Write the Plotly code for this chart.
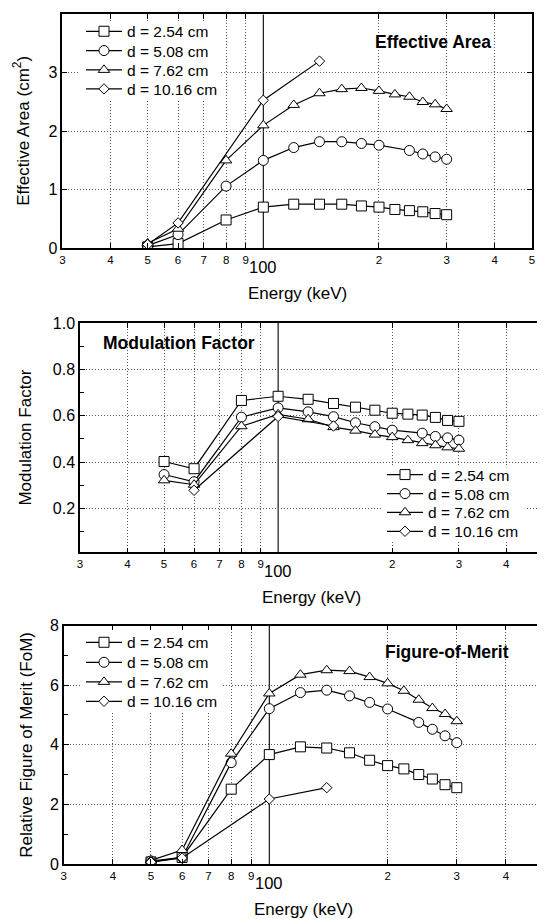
import numpy as np
import plotly.graph_objects as go

# ---------------- data ----------------
energy = [50, 60, 80, 100, 120, 140, 160, 180, 200, 220, 240, 260, 280, 300]
energy_circ = [50, 60, 80, 100, 120, 140, 160, 180, 200, 240, 260, 280, 300]
energy_diam = [50, 60, 100, 140]
energy_diam_mod = [60, 100, 140]

labels = ["d = 2.54 cm", "d = 5.08 cm", "d = 7.62 cm", "d = 10.16 cm"]

area_254 = [0.02, 0.075, 0.48, 0.70, 0.75, 0.75, 0.75, 0.72, 0.70, 0.66, 0.64, 0.62, 0.59, 0.57]
area_508 = [0.04, 0.23, 1.06, 1.50, 1.72, 1.82, 1.82, 1.79, 1.76, 1.67, 1.61, 1.56, 1.52]
area_762 = [0.08, 0.33, 1.50, 2.10, 2.45, 2.65, 2.72, 2.74, 2.69, 2.63, 2.59, 2.50, 2.46, 2.38]
area_1016 = [0.06, 0.43, 2.53, 3.20]

mod_254 = [0.403, 0.372, 0.666, 0.684, 0.671, 0.653, 0.637, 0.624, 0.611, 0.607, 0.603, 0.593, 0.580, 0.576]
mod_508 = [0.347, 0.316, 0.594, 0.634, 0.617, 0.596, 0.570, 0.553, 0.538, 0.525, 0.511, 0.505, 0.495]
mod_762 = [0.322, 0.303, 0.555, 0.606, 0.585, 0.551, 0.536, 0.519, 0.508, 0.495, 0.482, 0.473, 0.464, 0.458]
mod_1016 = [0.279, 0.597, 0.556]

fom_254 = [0.07, 0.22, 2.51, 3.67, 3.93, 3.89, 3.73, 3.48, 3.30, 3.19, 3.00, 2.85, 2.66, 2.56]
fom_508 = [0.10, 0.22, 3.40, 5.21, 5.75, 5.83, 5.64, 5.42, 5.20, 4.75, 4.52, 4.30, 4.07]
fom_762 = [0.12, 0.47, 3.70, 5.72, 6.35, 6.50, 6.47, 6.27, 6.06, 5.81, 5.51, 5.23, 5.03, 4.79]
fom_1016 = [0.06, 0.20, 2.18, 2.56]

x_tickvals = [30, 40, 50, 60, 70, 80, 90, 200, 300, 400, 500]
x_ticktext = ["3", "4", "5", "6", "7", "8", "9", "2", "3", "4", "5"]

# ---------------- geometry helpers ----------------
# the page body adds an 8 px margin, so the figure is 8 px smaller and all
# reference-pixel positions are shifted by that amount
OFF = 8
W, H = 545 - OFF, 919 - OFF

def fx(p):
    return (p - OFF) / W

def fy(p):
    return 1 - (p - OFF) / H

FONT = "Liberation Sans, Arial, Helvetica, sans-serif"
symbols = ["square", "circle", "triangle-up", "diamond"]
sizes = [10, 10, 10, 8]

fig = go.Figure()

# legend placement (left x of legend box, row centres) in reference pixels
legend_rows = [
    (81, [31.7, 51.0, 70.3, 89.3]),
    (382, [475.0, 494.0, 512.7, 531.7]),
    (81, [642.7, 662.7, 682.3, 701.7]),
]
# white backing boxes hiding the grid behind each legend (reference pixels)
legend_boxes = [(80, 22, 220, 99), (383, 466, 525, 541), (80, 632, 222, 711)]

panels = [
    dict(xs=[energy, energy_circ, energy, energy_diam],
         ys=[area_254, area_508, area_762, area_1016], ax=""),
    dict(xs=[energy, energy_circ, energy, energy_diam_mod],
         ys=[mod_254, mod_508, mod_762, mod_1016], ax="2"),
    dict(xs=[energy, energy_circ, energy, energy_diam],
         ys=[fom_254, fom_508, fom_762, fom_1016], ax="3"),
]

legend_layouts = {}
n = 0
for pi, p in enumerate(panels):
    lx, rows = legend_rows[pi]
    for i in range(4):
        n += 1
        lname = "legend" if n == 1 else "legend%d" % n
        fig.add_trace(go.Scatter(
            x=p["xs"][i], y=p["ys"][i], name=labels[i],
            mode="lines+markers",
            line=dict(color="black", width=1.2),
            marker=dict(symbol=symbols[i], size=sizes[i], color="white",
                        line=dict(color="black", width=1)),
            xaxis="x" + p["ax"], yaxis="y" + p["ax"], legend=lname,
        ))
        legend_layouts[lname] = dict(
            x=fx(lx), y=fy(rows[i]), xanchor="left", yanchor="middle",
            bgcolor="rgba(0,0,0,0)", borderwidth=0,
            font=dict(size=15.5, family=FONT, color="black"),
            itemsizing="trace", itemwidth=36)

GRID = "#5a5a5a"
GDASH = "1px,2px"
xcommon = dict(type="log", range=[np.log10(30), np.log10(500)],
               tickvals=x_tickvals, ticktext=x_ticktext,
               ticks="inside", ticklen=5, tickcolor="black", tickwidth=1,
               showline=True, linecolor="black", linewidth=1.5, mirror="ticks",
               showgrid=True, gridcolor=GRID, griddash=GDASH, gridwidth=1,
               zeroline=False, automargin=False,
               tickfont=dict(size=11.5, family=FONT, color="black"))
ycommon = dict(ticks="inside", ticklen=5, tickcolor="black", tickwidth=1,
               showline=True, linecolor="black", linewidth=1.5, mirror="ticks",
               showgrid=True, gridcolor=GRID, griddash=GDASH, gridwidth=1,
               zeroline=False, automargin=False,
               tickfont=dict(size=16, family=FONT, color="black"))

doms = [
    ([fx(62.4), fx(531.9)], [fy(248.0), fy(14.4)]),
    ([fx(80.0), fx(543.0)], [fy(552.3), fy(322.9)]),
    ([fx(63.8), fx(544.0)], [fy(864.0), fy(625.5)]),
]

fig.update_layout(
    template="none",
    xaxis=dict(xcommon, domain=doms[0][0], anchor="y"),
    yaxis=dict(ycommon, domain=doms[0][1], anchor="x", range=[0, 4], dtick=1),
    xaxis2=dict(xcommon, domain=doms[1][0], anchor="y2"),
    yaxis2=dict(ycommon, domain=doms[1][1], anchor="x2", range=[0.012, 1.0],
                tickvals=[0.2, 0.4, 0.6, 0.8, 1.0], ticktext=["0.2", "0.4", "0.6", "0.8", "1.0"],
                minor=dict(tickvals=[0.1, 0.3, 0.5, 0.7, 0.9], ticks="inside", ticklen=4,
                           tickcolor="black", showgrid=False)),
    xaxis3=dict(xcommon, domain=doms[2][0], anchor="y3"),
    yaxis3=dict(ycommon, domain=doms[2][1], anchor="x3", range=[0, 8], dtick=2,
                minor=dict(dtick=1, ticks="inside", ticklen=4, tickcolor="black", showgrid=False)),
    **legend_layouts,
)

# solid vertical line at 100 keV in each panel
for ax in ["", "2", "3"]:
    fig.add_shape(type="line", xref="x" + ax, yref="y" + ax + " domain",
                  x0=100, x1=100, y0=0, y1=1, layer="below",
                  line=dict(color="black", width=1.1))
# legend backgrounds
for (x0, y0, x1, y1) in legend_boxes:
    fig.add_shape(type="rect", xref="paper", yref="paper",
                  x0=fx(x0), x1=fx(x1), y0=fy(y1), y1=fy(y0), layer="above",
                  line=dict(width=0), fillcolor="white")

ann = []
for ax in ["", "2", "3"]:
    ann.append(dict(text="100", xref="x" + ax, yref="y" + ax + " domain",
                    x=2, y=0, yshift=-19, showarrow=False, yanchor="middle",
                    font=dict(size=16.5, family=FONT, color="black")))
    ann.append(dict(text="Energy (keV)", xref="x" + ax + " domain", yref="y" + ax + " domain",
                    x=0.5, y=0, yshift=-45, showarrow=False, yanchor="middle",
                    font=dict(size=17, family=FONT, color="black")))

ytitles = [("Effective Area (cm<sup>2</sup>)", 21.6, ""),
           ("Modulation Factor", 26.0, "2"),
           ("Relative Figure of Merit (FoM)", 27.0, "3")]
for t, xp, ax in ytitles:
    ann.append(dict(text=t, xref="paper", yref="y" + ax + " domain", x=fx(xp), y=0.5,
                    textangle=-90, showarrow=False, xanchor="center", yanchor="middle",
                    font=dict(size=17, family=FONT, color="black")))

titles = [("Effective Area", 433.4, 42.3), ("Modulation Factor", 179.1, 342.7),
          ("Figure-of-Merit", 446.6, 651.7)]
for t, xp, yp in titles:
    ann.append(dict(text="<b>" + t + "</b>", xref="paper", yref="paper",
                    x=fx(xp), y=fy(yp), showarrow=False,
                    xanchor="center", yanchor="middle",
                    font=dict(size=17.5, family=FONT, color="black")))

fig.update_layout(
    annotations=ann,
    width=W, height=H,
    margin=dict(l=0, r=0, t=0, b=0, autoexpand=False),
    paper_bgcolor="white", plot_bgcolor="white",
    font=dict(family=FONT, color="black"),
    showlegend=True,
)

fig.write_html("out.html")
